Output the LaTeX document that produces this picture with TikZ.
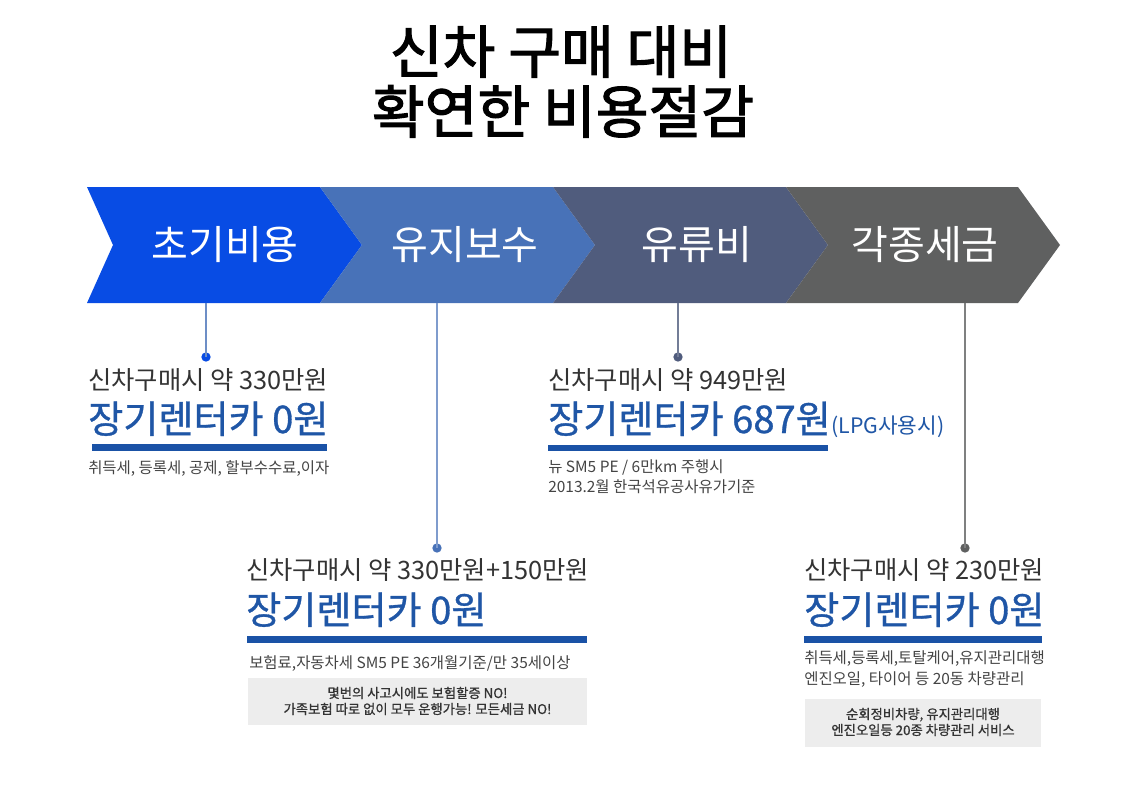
\documentclass[tikz,border=0pt]{standalone}
\usepackage{fontspec}
\setmainfont{Noto Sans CJK KR}
\newfontfamily\krb{Noto Sans CJK KR}[FakeBold=2]
\newfontfamily\krm{Noto Sans CJK KR}[FakeBold=0.8]
\definecolor{cA}{RGB}{8,76,228}
\definecolor{cB}{RGB}{72,114,184}
\definecolor{cC}{RGB}{80,92,125}
\definecolor{cD}{RGB}{95,96,96}
\definecolor{bluetxt}{RGB}{31,86,166}
\definecolor{bar}{RGB}{26,82,166}
\definecolor{graytxt}{RGB}{51,51,51}
\definecolor{smalltxt}{RGB}{68,68,68}
\definecolor{boxfill}{RGB}{237,237,237}
\tikzset{
  chevtxt/.style={text=white,font=\fontsize{30pt}{34pt}\selectfont,inner sep=0pt},
  title/.style={font=\krb\fontsize{43pt}{50pt}\selectfont,inner sep=0pt,anchor=base},
  pricetxt/.style={font=\fontsize{19pt}{22pt}\selectfont,text=graytxt,inner sep=0pt,anchor=base west},
  rentxt/.style={font=\krm\fontsize{28.6pt}{32pt}\selectfont,text=bluetxt,inner sep=0pt,anchor=base west},
  subtxt/.style={font=\fontsize{11.6pt}{14pt}\selectfont,text=smalltxt,inner sep=0pt,anchor=base west},
  boxtxt/.style={font=\krm\fontsize{10pt}{12pt}\selectfont,text=graytxt,inner sep=0pt,anchor=base},
  conn/.style={line width=1.1pt},
  dotnode/.style={circle,inner sep=0pt,minimum size=7pt},
}
\begin{document}
\begin{tikzpicture}[x=0.75pt,y=-0.75pt]
\useasboundingbox (0,0) rectangle (1143,796);
\fill[white] (0,0) rectangle (1143,796);
% title
\node[title] (t1) at (561,73) {신차 구매 대비};
\node[title] (t2) at (563,133) {확연한 비용절감};
% chevrons
\fill[cA] (87,187) -- (320,187) -- (362,245) -- (320,303) -- (87,303) -- (113,245) -- cycle;
\fill[cB] (320,187) -- (553,187) -- (595,245) -- (553,303) -- (320,303) -- (362,245) -- cycle;
\fill[cC] (553,187) -- (786,187) -- (828,245) -- (786,303) -- (553,303) -- (595,245) -- cycle;
\fill[cD] (786,187) -- (1018,187) -- (1060,245) -- (1018,303) -- (786,303) -- (828,245) -- cycle;
\node[chevtxt] (h1) at (225,245) {초기비용};
\node[chevtxt] (h2) at (465,245) {유지보수};
\node[chevtxt] (h3) at (697,245) {유류비};
\node[chevtxt] (h4) at (925,245) {각종세금};
% connector starts
\coordinate (s1) at (206,303);
\coordinate (s2) at (437,303);
\coordinate (s3) at (678,303);
\coordinate (s4) at (965,303);
\node[dotnode,fill=cA] (d1) at (206,357) {};
\node[dotnode,fill=cB] (d2) at (437,548) {};
\node[dotnode,fill=cC] (d3) at (678,357) {};
\node[dotnode,fill=cD] (d4) at (965,548) {};
\draw[conn,cB!80] (s1) -- (d1.center);
\draw[conn,cB!70] (s2) -- (d2.center);
\draw[conn,cC!80] (s3) -- (d3.center);
\draw[conn,cD!80] (s4) -- (d4.center);
% block 1
\node[pricetxt] (p1) at (88,389) {신차구매시 약 330만원};
\node[rentxt] (r1) at (88,433) {장기렌터카 0원};
\fill[bar] (92,444) rectangle (327,451);
\node[subtxt] (n1) at (88,473) {취득세, 등록세, 공제, 할부수수료,이자};
% block 2
\node[pricetxt] (p2) at (246,579) {신차구매시 약 330만원+150만원};
\node[rentxt] (r2) at (246,624) {장기렌터카 0원};
\fill[bar] (247,636) rectangle (587,643);
\node[subtxt] (n2) at (249,668) {보험료,자동차세 SM5 PE 36개월기준/만 35세이상};
\fill[boxfill] (248,678) rectangle (587,725);
\node[boxtxt] (b2a) at (417.5,698) {몇번의 사고시에도 보험할증 NO!};
\node[boxtxt] (b2b) at (417.5,714) {가족보험 따로 없이 모두 운행가능! 모든세금 NO!};
% block 3
\node[pricetxt] (p3) at (548,389) {신차구매시 약 949만원};
\node[rentxt] (r3) at (548,433) {장기렌터카 687원};
\node[font=\fontsize{16pt}{18pt}\selectfont,text=bluetxt,inner sep=0pt,anchor=base west] (l3) at (r3.base east) {(LPG사용시)};
\fill[bar] (548,445) rectangle (828,451);
\node[subtxt] (n3a) at (548,472) {뉴 SM5 PE / 6만km 주행시};
\node[subtxt] (n3b) at (548,492) {2013.2월 한국석유공사유가기준};
% block 4
\node[pricetxt] (p4) at (804,579) {신차구매시 약 230만원};
\node[rentxt] (r4) at (804,624) {장기렌터카 0원};
\fill[bar] (804,636) rectangle (1042,643);
\node[subtxt] (n4a) at (804,663) {취득세,등록세,토탈케어,유지관리대행};
\node[subtxt] (n4b) at (804,684) {엔진오일, 타이어 등 20동 차량관리};
\fill[boxfill] (805,699) rectangle (1041,747);
\node[boxtxt] (b4a) at (923,719) {순회정비차량, 유지관리대행};
\node[boxtxt] (b4b) at (923,735) {엔진오일등 20종 차량관리 서비스};
\end{tikzpicture}
\end{document}
